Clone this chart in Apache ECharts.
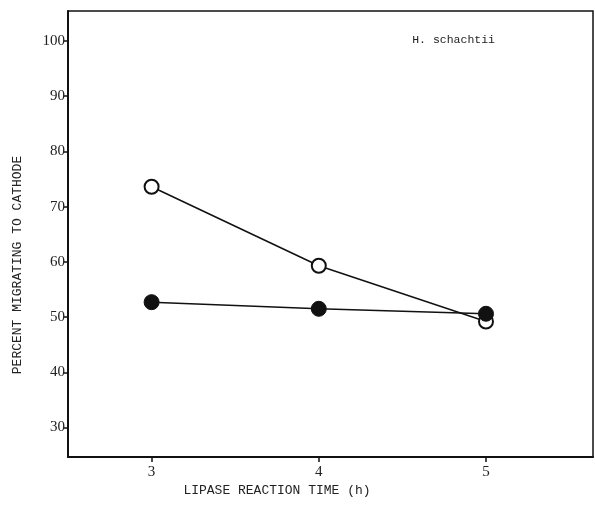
<!DOCTYPE html>
<html><head><meta charset="utf-8">
<script src="https://cdn.jsdelivr.net/npm/echarts@6/dist/echarts.min.js"></script>
<style>html,body{margin:0;padding:0;background:#fff}#c{width:595px;height:505px}</style>
</head><body><div id="c"></div>
<script>
const times = [3, 4, 5];
const openValues = [73.6, 59.3, 49.2];
const filledValues = [52.7, 51.5, 50.6];
const yTicks = [30, 40, 50, 60, 70, 80, 90, 100];
const xTicks = [3, 4, 5];
const xTitle = 'LIPASE REACTION TIME (h)';
const yTitle = 'PERCENT MIGRATING TO CATHODE';
const label = 'H. schachtii';

const chart = echarts.init(document.getElementById('c'), null, {renderer: 'canvas'});
const mono = 'Liberation Mono';
const serif = 'Liberation Serif';
chart.setOption({
  animation: false,
  backgroundColor: '#fff',
  grid: {left: 68, top: 11, right: 2, bottom: 48, show: true, borderColor: '#111', borderWidth: 1.5},
  title: {text: label, right: 100, top: 34, padding: 0, textStyle: {fontFamily: mono, fontSize: 11.5, fontWeight: 'normal', color: '#222'}},
  graphic: [
    {type: 'text', x: 277, y: 491, style: {text: xTitle, font: '13px "Liberation Mono"', fill: '#222', align: 'center', verticalAlign: 'middle'}},
    {type: 'text', x: 18, y: 265, rotation: Math.PI / 2, style: {text: yTitle, font: '13px "Liberation Mono"', fill: '#222', align: 'center', verticalAlign: 'middle'}}
  ],
  xAxis: {
    type: 'value', min: 2.5, max: 5.64,
    axisLine: {show: true, lineStyle: {color: '#111', width: 2}},
    axisTick: {show: true, customValues: xTicks, length: 5, inside: false, lineStyle: {color: '#111', width: 1.5}},
    axisLabel: {customValues: xTicks, fontFamily: serif, fontSize: 15, color: '#222', margin: 8},
    splitLine: {show: false}
  },
  yAxis: {
    type: 'value', min: 24.66, max: 105.43,
    axisLine: {show: true, lineStyle: {color: '#111', width: 2}},
    axisTick: {show: true, customValues: yTicks, length: 4, lineStyle: {color: '#111', width: 1.5}},
    axisLabel: {customValues: yTicks, fontFamily: serif, fontSize: 15, color: '#222', margin: 3},
    splitLine: {show: false}
  },
  series: [
    {
      type: 'line', data: times.map((t, i) => [t, openValues[i]]),
      symbol: 'circle', symbolSize: 14,
      lineStyle: {color: '#111', width: 1.5},
      itemStyle: {color: '#fff', borderColor: '#111', borderWidth: 2},
      z: 2
    },
    {
      type: 'line', data: times.map((t, i) => [t, filledValues[i]]),
      symbol: 'circle', symbolSize: 15,
      lineStyle: {color: '#111', width: 1.5},
      itemStyle: {color: '#111', borderColor: '#111', borderWidth: 1},
      z: 3
    }
  ]
});
</script></body></html>
